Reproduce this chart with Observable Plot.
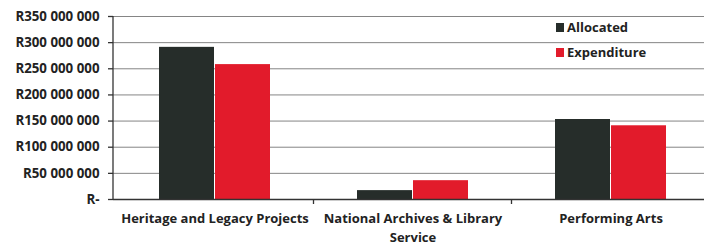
<!DOCTYPE html>
<html><head><meta charset="utf-8">
<script src="https://cdn.jsdelivr.net/npm/d3@7"></script>
<script src="https://cdn.jsdelivr.net/npm/@observablehq/plot@0.6"></script>
<style>
html,body{margin:0;padding:0;background:#fff;overflow:hidden;width:704px;height:243px}
#wrap{position:relative;width:704px;height:243px;overflow:hidden}
.legend{position:absolute;left:556px;font:bold 13px "Open Sans",sans-serif;color:#222;display:flex;align-items:center}
.legend span.sw{display:inline-block;width:8px;height:9px;margin-right:3px}
</style></head>
<body><div id="wrap"></div>
<script>
const categories = ["Heritage and Legacy Projects", "National Archives & Library Service", "Performing Arts"];
const series = ["Allocated", "Expenditure"];
const allocated = [291000000, 17000000, 153000000];
const expenditure = [258000000, 36000000, 141000000];
const yTicks = [0, 50000000, 100000000, 150000000, 200000000, 250000000, 300000000, 350000000];
const colors = ["#262d2a", "#e21b2b"];

const data = [];
categories.forEach((c, i) => {
  data.push({category: c, series: series[0], value: allocated[i]});
  data.push({category: c, series: series[1], value: expenditure[i]});
});

const fmt = v => v === 0 ? "R-" : "R" + d3.format(",")(v).replace(/,/g, " ");
const xLabel = c => c === "National Archives & Library Service" ? "National Archives & Library\nService" : c;
const font = '"Open Sans", sans-serif';
const half = 112 / 2;

const chart = Plot.plot({
  width: 711,
  height: 243,
  marginLeft: 113,
  marginRight: 0,
  marginTop: 16,
  marginBottom: 44,
  style: {fontFamily: font, overflow: "visible", background: "#fff", maxWidth: "none"},
  x: {domain: categories, paddingInner: 0.44, paddingOuter: 0.225, label: null},
  y: {domain: [0, 350000000], label: null},
  color: {domain: series, range: colors},
  marks: [
    Plot.gridY(yTicks, {stroke: "#666", strokeOpacity: 0.8, strokeWidth: 1}),
    Plot.barY(data.filter(d => d.series === series[0]), {x: "category", y: "value", fill: colors[0], insetRight: half}),
    Plot.barY(data.filter(d => d.series === series[1]), {x: "category", y: "value", fill: colors[1], insetLeft: half}),
    Plot.ruleY([0], {stroke: "#333", strokeWidth: 1.3}),
    Plot.axisY(yTicks, {tickFormat: fmt, tickSize: 5, tickPadding: 9, fontSize: 13.3, fontWeight: "bold", fill: "#222", stroke: "#333", strokeWidth: 1.3, label: null}),
    Plot.axisX({tickSize: 0, tickPadding: 11, fontSize: 13, fontWeight: "bold", fill: "#222", tickFormat: xLabel, lineHeight: 1.4, label: null})
  ]
});
const wrap = document.getElementById("wrap");
wrap.appendChild(chart);

// y axis line and category separator ticks, placed with the library's scales
const svg = d3.select(chart);
const xs = chart.scale("x");
const ys = chart.scale("y");
const step = xs.step;
const yTop = ys.apply(350000000), y0 = ys.apply(0);
svg.append("line").attr("x1", 113).attr("x2", 113).attr("y1", yTop).attr("y2", y0)
  .attr("stroke", "#333").attr("stroke-width", 1.3);
categories.slice(1).forEach(c => {
  const xb = xs.apply(c) - (step - xs.bandwidth) / 2;
  svg.append("line").attr("x1", xb).attr("x2", xb).attr("y1", y0).attr("y2", y0 + 5)
    .attr("stroke", "#333").attr("stroke-width", 1.3);
});

const legendRows = [["Allocated", colors[0], 18], ["Expenditure", colors[1], 43]];
legendRows.forEach(([t, c, top]) => {
  const d = document.createElement("div");
  d.className = "legend";
  d.style.top = top + "px";
  d.innerHTML = `<span class="sw" style="background:${c}"></span>${t}`;
  wrap.appendChild(d);
});
</script>
</body></html>
